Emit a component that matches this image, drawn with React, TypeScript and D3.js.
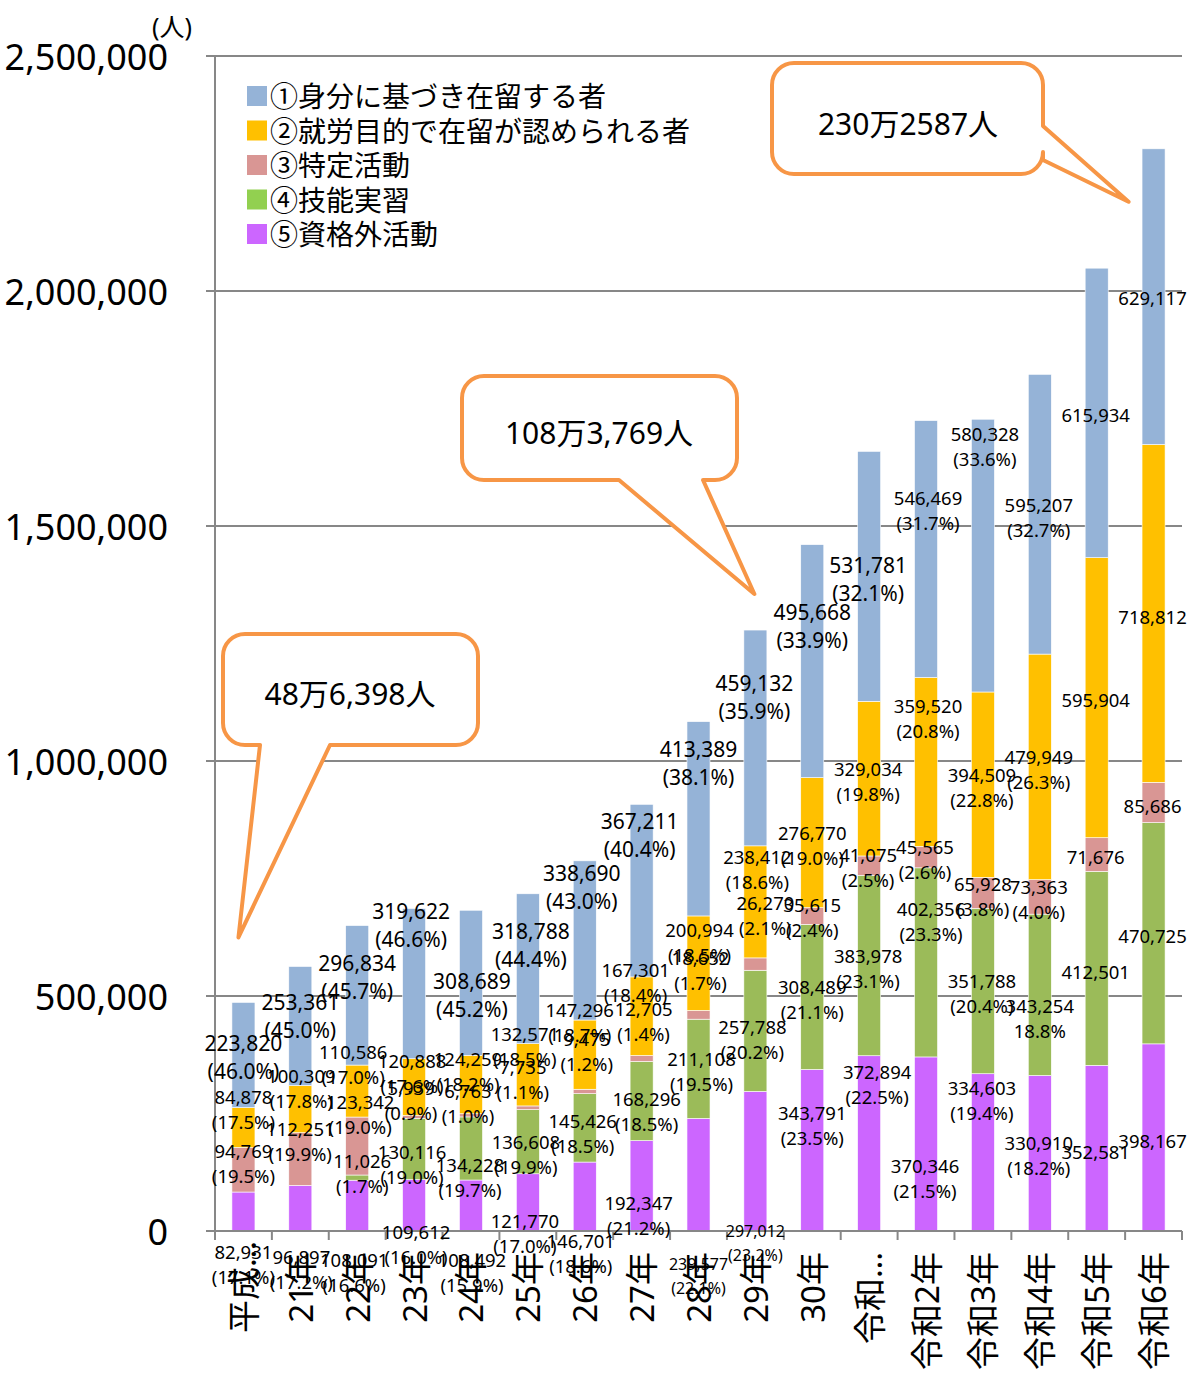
import * as d3 from "d3";
import React from "react";

// 外国人労働者数（在留資格別）
const categories = ["平成20年", "平成21年", "平成22年", "平成23年", "平成24年", "平成25年", "平成26年", "平成27年", "平成28年", "平成29年", "平成30年", "令和元年", "令和2年", "令和3年", "令和4年", "令和5年", "令和6年"];
const tickLabels = ["平成…", "21年", "22年", "23年", "24年", "25年", "26年", "27年", "28年", "29年", "30年", "令和…", "令和2年", "令和3年", "令和4年", "令和5年", "令和6年"];

const mibun = [223820, 253361, 296834, 319622, 308689, 318788, 338690, 367211, 413389, 459132, 495668, 531781, 546469, 580328, 595207, 615934, 629117];
const shuro = [84878, 100309, 110586, 120888, 124259, 132571, 147296, 167301, 200994, 238412, 276770, 329034, 359520, 394509, 479949, 595904, 718812];
const tokutei = [94769, 112251, 123342, 5939, 6763, 7735, 9475, 12705, 18652, 26270, 35615, 41075, 45565, 65928, 73363, 71676, 85686];
const ginou = [0, 0, 11026, 130116, 134228, 136608, 145426, 168296, 211108, 257788, 308489, 383978, 402356, 351788, 343254, 412501, 470725];
const shikakugai = [82931, 96897, 108091, 109612, 108492, 121770, 146701, 192347, 239577, 297012, 343791, 372894, 370346, 334603, 330910, 352581, 398167];

const mibunPct = ["(46.0%)", "(45.0%)", "(45.7%)", "(46.6%)", "(45.2%)", "(44.4%)", "(43.0%)", "(40.4%)", "(38.1%)", "(35.9%)", "(33.9%)", "(32.1%)", "(31.7%)", "(33.6%)", "(32.7%)", "", ""];
const shuroPct = ["(17.5%)", "(17.8%)", "(17.0%)", "(17.6%)", "(18.2%)", "(18.5%)", "(18.7%)", "(18.4%)", "(18.5%)", "(18.6%)", "(19.0%)", "(19.8%)", "(20.8%)", "(22.8%)", "(26.3%)", "", ""];
const tokuteiPct = ["(19.5%)", "(19.9%)", "(19.0%)", "(0.9%)", "(1.0%)", "(1.1%)", "(1.2%)", "(1.4%)", "(1.7%)", "(2.1%)", "(2.4%)", "(2.5%)", "(2.6%)", "(3.8%)", "(4.0%)", "", ""];
const ginouPct = ["", "", "(1.7%)", "(19.0%)", "(19.7%)", "(19.9%)", "(18.5%)", "(18.5%)", "(19.5%)", "(20.2%)", "(21.1%)", "(23.1%)", "(23.3%)", "(20.4%)", "18.8%", "", ""];
const shikakugaiPct = ["(17.1%)", "(17.2%)", "(16.6%)", "(16.0%)", "(15.9%)", "(17.0%)", "(18.6%)", "(21.2%)", "(22.1%)", "(23.2%)", "(23.5%)", "(22.5%)", "(21.5%)", "(19.4%)", "(18.2%)", "", ""];

const yTicks = [0, 500000, 1000000, 1500000, 2000000, 2500000];

// manual label moves (px) from the segment centre, as in the original sheet
const nudge: Record<string, [number, number][]> = {
  mibun: [[0, 2], [0, -10], [0, -18], [-3, -59], [1, 12], [3, -24], [-3, -53], [-2, -56], [0, -56], [-1, -41], [0, -35], [-1, 3], [2, -39], [2, -110], [-1, 3], [-1, 2], [-1, 1]],
  shuro: [[0, -19], [1, -21], [-4, -27], [-2, -14], [-3, -14], [-3, -29], [-5, -33], [-6, -34], [1, -21], [2, -33], [0, 2], [-1, 2], [2, -44], [-1, 2], [-1, 2], [-1, 2], [-1, 3]],
  tokutei: [[0, -7], [0, -18], [3, -32], [-3, -17], [-3, -12], [-5, -29], [2, -40], [2, -38], [2, -45], [10, -49], [0, 1], [-1, 1], [-1, 2], [0, 3], [-1, 2], [-1, 2], [-1, 3]],
  ginou: [[0, 0], [0, 0], [5, -5], [-2, 15], [-1, 29], [-2, 12], [-2, 5], [5, 10], [3, 2], [-3, 8], [0, 2], [-1, 2], [5, -41], [-1, 2], [0, 23], [-1, 3], [-1, 2]],
  shikakugai: [[0, 52], [1, 61], [-3, 66], [2, 39], [1, 66], [-3, 31], [-4, 56], [-3, 29], [0, 101], [0, 82], [0, -25], [8, -59], [-1, 34], [-1, -52], [-1, 2], [-1, 3], [-1, 3]],
};

const series = [
  { key: "shikakugai", name: "⑤資格外活動", color: "#CC66FF", legend: "#CC66FF", values: shikakugai, pct: shikakugaiPct },
  { key: "ginou", name: "④技能実習", color: "#9BBB59", legend: "#92D050", values: ginou, pct: ginouPct },
  { key: "tokutei", name: "③特定活動", color: "#D99694", legend: "#D99694", values: tokutei, pct: tokuteiPct },
  { key: "shuro", name: "②就労目的で在留が認められる者", color: "#FFC000", legend: "#FFC000", values: shuro, pct: shuroPct },
  { key: "mibun", name: "①身分に基づき在留する者", color: "#95B3D7", legend: "#95B3D7", values: mibun, pct: mibunPct },
];

const W = 1191;
const H = 1378;
const FONT = "'Noto Sans', 'Noto Sans CJK JP', sans-serif";

function calloutPath(x: number, y: number, w: number, h: number, r: number, edge: "bottom" | "right", a: number, b: number, tx: number, ty: number) {
  if (edge === "bottom") {
    return `M${x + r},${y} H${x + w - r} A${r},${r} 0 0 1 ${x + w},${y + r} V${y + h - r} A${r},${r} 0 0 1 ${x + w - r},${y + h} H${b} L${tx},${ty} L${a},${y + h} H${x + r} A${r},${r} 0 0 1 ${x},${y + h - r} V${y + r} A${r},${r} 0 0 1 ${x + r},${y} Z`;
  }
  return `M${x + r},${y} H${x + w - r} A${r},${r} 0 0 1 ${x + w},${y + r} V${a} L${tx},${ty} L${x + w},${b} V${y + h - r} A${r},${r} 0 0 1 ${x + w - r},${y + h} H${x + r} A${r},${r} 0 0 1 ${x},${y + h - r} V${y + r} A${r},${r} 0 0 1 ${x + r},${y} Z`;
}

const App: React.FC = () => {
  const x0 = 215, x1 = 1182, yBase = 1231, yTop = 56;
  const x = d3.scaleBand().domain(categories).range([x0, x1]).padding(0);
  const y = d3.scaleLinear().domain([0, 2500000]).range([yBase, yTop]);
  const barW = x.bandwidth() * 0.405;
  const fmt = d3.format(",");

  const rows = categories.map((c, i) => {
    const r: Record<string, any> = { cat: c };
    series.forEach(s => { r[s.key] = s.values[i]; });
    return r;
  });
  const stacked = d3.stack<any>().keys(series.map(s => s.key))(rows);
  const totals = rows.map(r => d3.sum(series, s => r[s.key] as number));

  const cx = (i: number) => (x(categories[i]) as number) + x.bandwidth() / 2;

  return (
    <svg width={W} height={H} style={{ position: "absolute", left: 0, top: 0, background: "white" }} fontFamily={FONT}>
      {/* grid */}
      {yTicks.map(t => (
        <g key={t}>
          {t > 0 && <line x1={x0 - 9} x2={x1} y1={y(t)} y2={y(t)} stroke="#878787" strokeWidth={2} />}
          <text x={168} y={y(t)} textAnchor="end" dominantBaseline="central" fontSize={36} fill="#000">{fmt(t)}</text>
        </g>
      ))}
      <text x={172} y={26} textAnchor="middle" dominantBaseline="central" fontSize={25}>(人)</text>

      {/* bars */}
      {stacked.map((layer, si) => (
        <g key={layer.key} fill={series[si].color}>
          {layer.map((d, i) => (
            <rect key={i} x={cx(i) - barW / 2} width={barW} y={y(d[1])} height={y(d[0]) - y(d[1])} stroke="#ffffff" strokeWidth={0.6} />
          ))}
        </g>
      ))}

      {/* axes */}
      <line x1={x0} x2={x0} y1={yTop} y2={yBase} stroke="#878787" strokeWidth={2} />
      <line x1={x0 - 9} x2={x1} y1={yBase} y2={yBase} stroke="#878787" strokeWidth={2} />
      {categories.map((c, i) => (
        <line key={c} x1={x(c) as number} x2={x(c) as number} y1={yBase} y2={yBase + 9} stroke="#878787" strokeWidth={2} />
      ))}
      <line x1={x1} x2={x1} y1={yBase} y2={yBase + 9} stroke="#878787" strokeWidth={2} />
      {tickLabels.map((t, i) => (
        <text key={i} transform={`translate(${cx(i)},${yBase + (i === 0 ? 10 : 21)}) rotate(-90)`} textAnchor="end" dominantBaseline="central" fontSize={33}>{t}</text>
      ))}

      {/* data labels */}
      {stacked.map((layer, si) => {
        const s = series[si];
        return (
          <g key={"l" + layer.key} fill="#000">
            {layer.map((d, i) => {
              const v = s.values[i];
              if (!v) return null;
              const big = s.key === "mibun" && i <= 11;
              const small = s.key === "shikakugai" && (i === 8 || i === 9);
              const fs = big ? 21 : small ? 16 : 18.5;
              const lh = big ? 28 : small ? 24 : 25;
              const [dx, dy] = nudge[s.key][i];
              const lx = cx(i) + dx;
              const ly = (y(d[0]) + y(d[1])) / 2 + dy;
              const pct = s.pct[i];
              return (
                <g key={i} fontSize={fs} textAnchor="middle">
                  {pct ? (
                    <>
                      <text x={lx} y={ly - lh / 2} dominantBaseline="central">{fmt(v)}</text>
                      <text x={lx} y={ly + lh / 2} dominantBaseline="central">{pct}</text>
                    </>
                  ) : (
                    <text x={lx} y={ly} dominantBaseline="central">{fmt(v)}</text>
                  )}
                </g>
              );
            })}
          </g>
        );
      })}

      {/* legend */}
      {series.slice().reverse().map((s, k) => (
        <g key={s.key} transform={`translate(247,${96 + k * 34.5})`}>
          <rect x={0} y={-10} width={20} height={20} fill={s.legend} />
          <text x={23} y={0} dominantBaseline="central" fontSize={28}>{s.name}</text>
        </g>
      ))}

      {/* callouts */}
      <g fill="#fff" stroke="#F79646" strokeWidth={4} strokeLinejoin="round">
        <path d={calloutPath(223, 634, 255, 111, 22, "bottom", 260, 330, cx(0) - 5, y(totals[0]) - 65)} />
        <path d={calloutPath(462, 376, 275, 104, 22, "bottom", 619, 703, cx(9) - 1, y(totals[9]) - 36)} />
        <path d={calloutPath(772, 63, 271, 111, 22, "right", 126, 160, cx(16) - 25, y(totals[16]) + 53)} />
      </g>
      <g fontSize={30} textAnchor="middle" dominantBaseline="central" fill="#000">
        <text x={350} y={693}>48万6,398人</text>
        <text x={599} y={432}>108万3,769人</text>
        <text x={908} y={123}>230万2587人</text>
      </g>
    </svg>
  );
};

export default App;
